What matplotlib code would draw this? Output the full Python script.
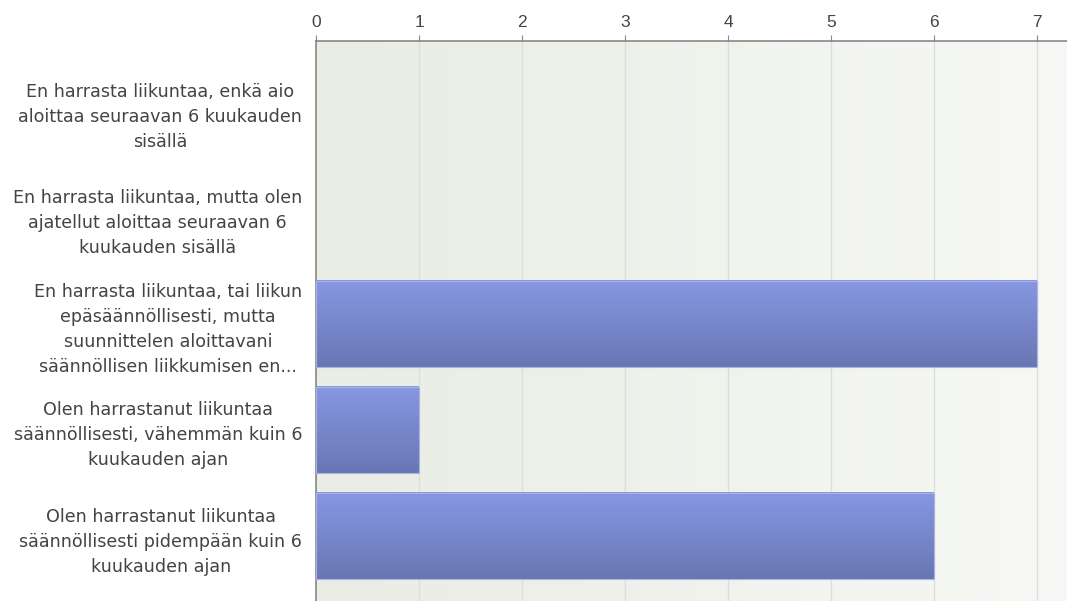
import numpy as np
import matplotlib.pyplot as plt
from matplotlib.colors import LinearSegmentedColormap

plt.rcParams['font.family'] = ['Liberation Sans', 'DejaVu Sans']

categories = [
    "En harrasta liikuntaa, enkä aio\naloittaa seuraavan 6 kuukauden\nsisällä",
    "En harrasta liikuntaa, mutta olen\najatellut aloittaa seuraavan 6\nkuukauden sisällä",
    "En harrasta liikuntaa, tai liikun\nepäsäännöllisesti, mutta\nsuunnittelen aloittavani\nsäännöllisen liikkumisen en...",
    "Olen harrastanut liikuntaa\nsäännöllisesti, vähemmän kuin 6\nkuukauden ajan",
    "Olen harrastanut liikuntaa\nsäännöllisesti pidempään kuin 6\nkuukauden ajan",
]
counts = [0, 0, 7, 1, 6]
x_ticks = [0, 1, 2, 3, 4, 5, 6, 7]

fig = plt.figure(figsize=(10.67, 6.01), dpi=100)
ax = fig.add_axes([316 / 1067, 0, 751 / 1067, 560 / 601])

# background gradient (left greener, right lighter)
bg = LinearSegmentedColormap.from_list("bg", ["#e9ede4", "#f7f8f5"])
ax.imshow(np.linspace(0, 1, 256).reshape(1, -1), cmap=bg, aspect="auto",
          extent=[0, 1, 0, 1], transform=ax.transAxes, zorder=0)

y = np.arange(len(categories))
bar_h = 0.81
bar_cmap = LinearSegmentedColormap.from_list("bar", ["#6877b3", "#8797e2"])
grad = np.linspace(0, 1, 128).reshape(-1, 1)
bars = ax.barh(y, counts, height=bar_h, color="none",
               edgecolor=["#a9b3e6" if c > 0 else "none" for c in counts],
               linewidth=0.8, zorder=3)
for b in bars:
    w = b.get_width()
    if w <= 0:
        continue
    x0, y0 = b.get_x(), b.get_y()
    h = b.get_height()
    # y axis is inverted: top of bar is y0, bottom is y0 + h
    ax.imshow(grad, cmap=bar_cmap, aspect="auto", origin="lower",
              extent=[x0, x0 + w, y0 + h, y0], zorder=2)

ax.set_xlim(0, 751 / 103.0)
ax.set_ylim(4.61, -0.66)
ax.set_xticks(x_ticks)
ax.xaxis.tick_top()
ax.tick_params(axis="x", direction="out", length=4, color="#888888",
               labelcolor="#444444", labelsize=12.5, pad=4)
ax.set_yticks(y)
ax.set_yticklabels(categories, multialignment="center", linespacing=1.5,
                   family=["DejaVu Sans"])
ax.tick_params(axis="y", length=0, labelcolor="#444444", labelsize=12.6, pad=10)
ax.grid(axis="x", color="#dcdfd8", linewidth=1, zorder=1)
ax.set_axisbelow(True)

for s in ["right", "bottom"]:
    ax.spines[s].set_visible(False)
for s in ["top", "left"]:
    ax.spines[s].set_color("#888888")
    ax.spines[s].set_linewidth(1.2)

fig.savefig("out.png", dpi=100)
